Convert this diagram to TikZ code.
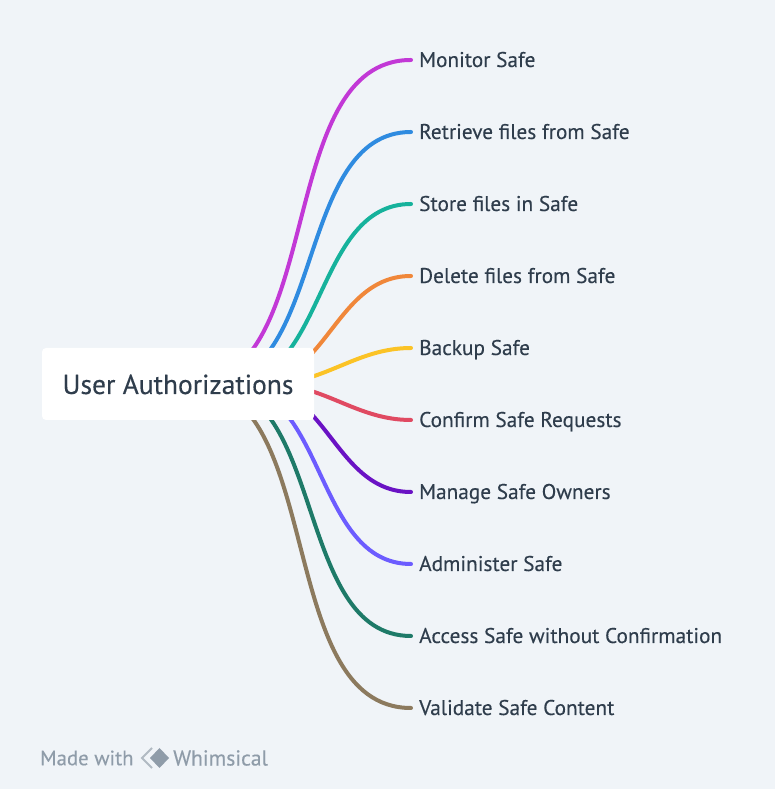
\documentclass[tikz,border=0pt]{standalone}
\usepackage{fontspec}
\setmainfont[FakeBold=0.25]{PT Sans}
\usetikzlibrary{positioning, backgrounds}
\definecolor{pagebg}{HTML}{F0F4F8}
\definecolor{inktext}{HTML}{2F3D4C}
\definecolor{marktext}{HTML}{8F9CA9}
\definecolor{monitorc}{HTML}{C238D6}
\definecolor{retrievec}{HTML}{2F8BE0}
\definecolor{storec}{HTML}{16B29C}
\definecolor{deletec}{HTML}{F0873A}
\definecolor{backupc}{HTML}{FBC326}
\definecolor{confirmc}{HTML}{E04A62}
\definecolor{managec}{HTML}{6A12C4}
\definecolor{adminc}{HTML}{6C5CFF}
\definecolor{accessc}{HTML}{1E7A68}
\definecolor{validatec}{HTML}{8C7A5E}

\begin{document}
\begin{tikzpicture}[
  x=1pt, y=1pt,
  root/.style={
    rectangle, rounded corners=4pt, fill=white, text=inktext,
    minimum width=272pt, minimum height=72pt, inner sep=0pt,
    text height=22pt, text depth=2pt,
    font=\fontsize{27.5}{32}\selectfont,
  },
  leaf/.style={
    anchor=west, text=inktext, inner sep=0pt, minimum height=20pt,
    text height=16pt, text depth=2pt,
    font=\fontsize{21.3}{25}\selectfont,
  },
  branch/.style={
    draw=#1, line width=4pt, line cap=round,
  },
  footer/.style={
    anchor=west, text=marktext, inner sep=0pt,
    font=\fontsize{#1}{25}\selectfont,
  },
]

  % Page
  \useasboundingbox (0,0) rectangle (775,789);

  % Root
  \node[root] (auth) at (178,405) {User Authorizations};

  % Leaves
  \node[leaf] (monitor) at (419,729) {Monitor Safe};
  \node[leaf, below=72pt of monitor.west, anchor=west] (retrieve) {Retrieve files from Safe};
  \node[leaf, below=72pt of retrieve.west, anchor=west] (store) {Store files in Safe};
  \node[leaf, below=72pt of store.west, anchor=west] (delete) {Delete files from Safe};
  \node[leaf, below=72pt of delete.west, anchor=west] (backup) {Backup Safe};
  \node[leaf, below=72pt of backup.west, anchor=west] (confirm) {Confirm Safe Requests};
  \node[leaf, below=72pt of confirm.west, anchor=west] (manage) {Manage Safe Owners};
  \node[leaf, below=72pt of manage.west, anchor=west] (admin) {Administer Safe};
  \node[leaf, below=72pt of admin.west, anchor=west] (access) {Access Safe without Confirmation};
  \node[leaf, below=72pt of access.west, anchor=west] (validate) {Validate Safe Content};

  % Footer
  \node[footer=20.8] (made) at (40,31) {Made with};
  \node[footer=21.6] (whimsical) at (173,31) {Whimsical};
  \fill[marktext] (159.5,41) -- (169,31) -- (159.5,21) -- (150,31) -- cycle;
  \draw[marktext!70, line width=1.8pt] (152,41) -- (142,31) -- (152,21);

  % Branches
  \begin{scope}[on background layer]
    \fill[pagebg] (0,0) rectangle (775,789);
    \draw[branch=monitorc] ([xshift=-125pt]auth.east) .. controls +(138,0) and +(-138,0) .. ([xshift=-8pt]monitor.west);
    \draw[branch=retrievec] ([xshift=-105pt]auth.east) .. controls +(117,0) and +(-117,0) .. ([xshift=-8pt]retrieve.west);
    \draw[branch=storec] ([xshift=-85pt]auth.east) .. controls +(97,0) and +(-97,0) .. ([xshift=-8pt]store.west);
    \draw[branch=deletec] ([xshift=-63pt]auth.east) .. controls +(76,0) and +(-76,0) .. ([xshift=-8pt]delete.west);
    \draw[branch=backupc] ([xshift=-45pt]auth.east) .. controls +(55,0) and +(-55,0) .. ([xshift=-8pt]backup.west);
    \draw[branch=confirmc] ([xshift=-45pt]auth.east) .. controls +(55,0) and +(-55,0) .. ([xshift=-8pt]confirm.west);
    \draw[branch=managec] ([xshift=-63pt]auth.east) .. controls +(76,0) and +(-76,0) .. ([xshift=-8pt]manage.west);
    \draw[branch=adminc] ([xshift=-85pt]auth.east) .. controls +(97,0) and +(-97,0) .. ([xshift=-8pt]admin.west);
    \draw[branch=accessc] ([xshift=-105pt]auth.east) .. controls +(117,0) and +(-117,0) .. ([xshift=-8pt]access.west);
    \draw[branch=validatec] ([xshift=-125pt]auth.east) .. controls +(138,0) and +(-138,0) .. ([xshift=-8pt]validate.west);
  \end{scope}

\end{tikzpicture}
\end{document}
